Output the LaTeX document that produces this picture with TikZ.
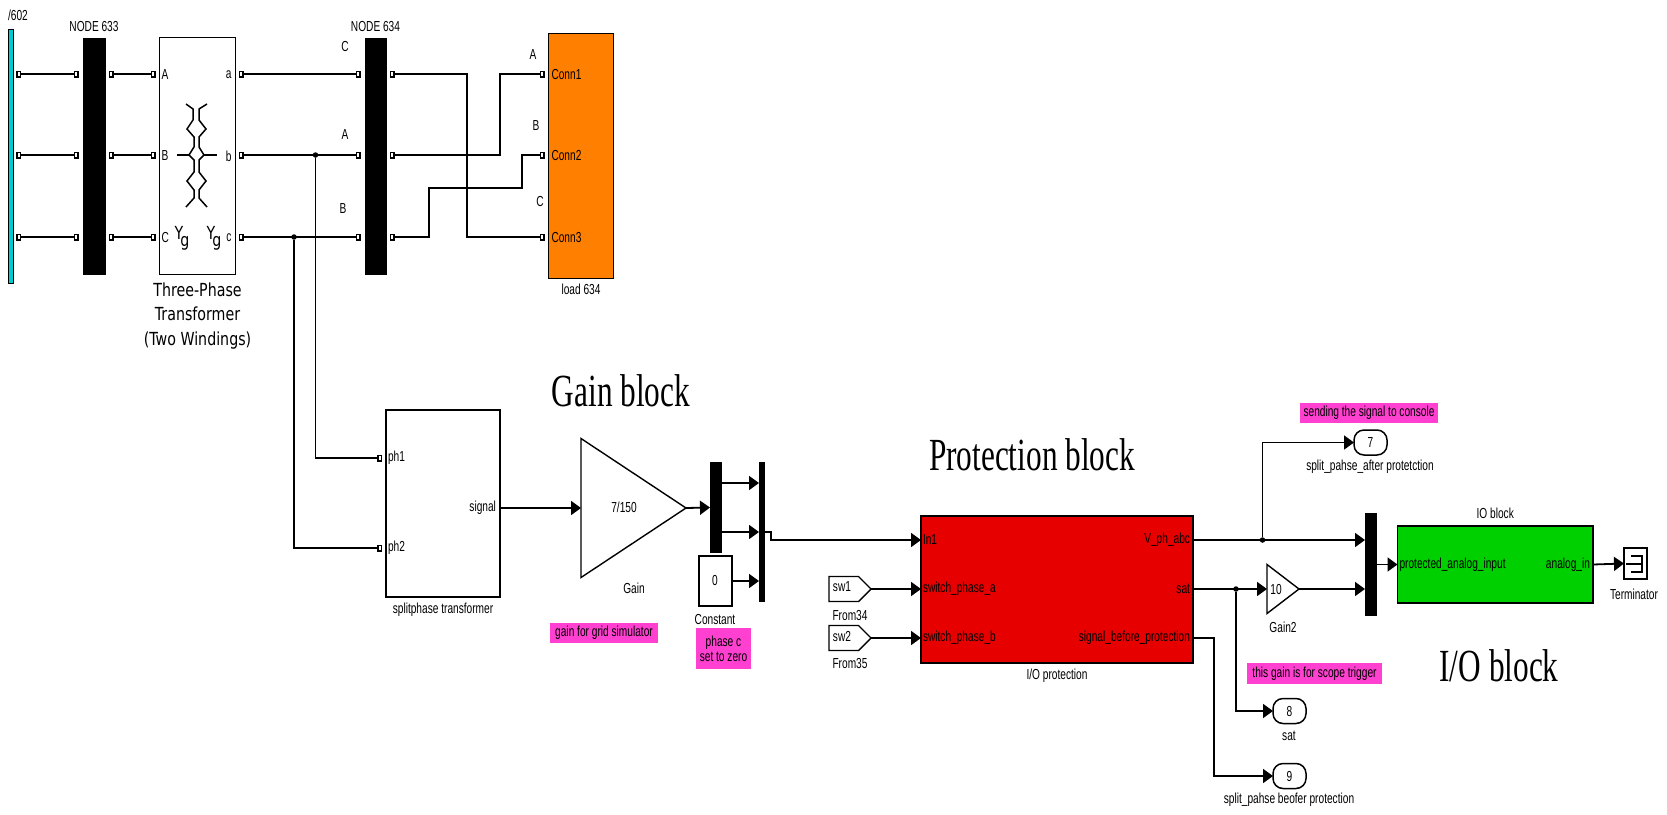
\documentclass[tikz,border=0pt]{standalone}
\usepackage{fontspec}
\setmainfont[FakeStretch=0.7]{Liberation Sans}
\newfontfamily\titlefont[FakeStretch=0.68]{Liberation Serif}
\newfontfamily\xfmrfont[FakeStretch=0.79]{DejaVu Sans}
\usetikzlibrary{arrows.meta,positioning,shapes.geometric,shapes.symbols}
\definecolor{loadorange}{RGB}{255,128,0}
\definecolor{protred}{RGB}{230,0,0}
\definecolor{iogreen}{RGB}{0,208,0}
\definecolor{notepink}{RGB}{255,64,208}
\definecolor{srccyan}{RGB}{0,204,208}

\begin{document}
\begin{tikzpicture}[
  x=1pt, y=1pt,
  font=\fontsize{14.5}{15}\selectfont,
  blk/.style={draw, line width=1.5pt, inner sep=0pt, outer sep=0pt},
  bus/.style={fill=black, inner sep=0pt, outer sep=0pt},
  lbl/.style={inner sep=0pt, outer sep=0pt},
  note/.style={fill=notepink, inner sep=0pt, outer sep=0pt, align=center},
  outp/.style={draw, line width=1.5pt, rounded corners=10pt, minimum width=33pt, minimum height=25pt, inner sep=0pt, outer sep=0pt},
  amp/.style={draw, line width=1.4pt, isosceles triangle, isosceles triangle stretches, shape border rotate=0, inner sep=0pt, outer sep=0pt, anchor=west},
  tag/.style={draw, line width=1.4pt, signal, signal to=east, signal from=nowhere, signal pointer angle=90, minimum width=42pt, minimum height=25pt, inner sep=0pt, outer sep=0pt},
  dot/.style={circle, fill=black, minimum size=5.5pt, inner sep=0pt, outer sep=0pt},
  ttl/.style={inner sep=0pt, outer sep=0pt, font=\titlefont\fontsize{46}{48}\selectfont},
  xfm/.style={inner sep=0pt, outer sep=0pt, align=center, font=\xfmrfont\fontsize{18}{24.5}\selectfont},
  phys/.style={line width=1.8pt, {Square[open,length=5pt,width=7pt,line width=1.5pt]}-{Square[open,length=5pt,width=7pt,line width=1.5pt]}, shorten <=3pt, shorten >=4pt},
  tap/.style={line width=1.8pt, -{Square[open,length=5pt,width=7pt,line width=1.5pt]}, shorten >=4pt},
  sig/.style={line width=1.8pt, -{Triangle[length=10pt,width=14pt]}}]
  \useasboundingbox (0,0) rectangle (1667,-814);

  % rows of the three-phase part
  \coordinate (ra) at (0,-74);
  \coordinate (rb) at (0,-155);
  \coordinate (rc) at (0,-237);
  \coordinate (jogl) at (429,-188);
  \coordinate (jogr) at (522,-188);

  \node[draw, line width=0.6pt, fill=srccyan, minimum width=5pt, minimum height=254pt, inner sep=0pt, outer sep=0pt] (src) at (10.5,-156) {};
  \node[bus, minimum width=23pt, minimum height=237pt, right=69.5pt of src] (bus633) {};
  \node[blk, fill=white, minimum width=76pt, minimum height=237pt, right=54pt of bus633] (xfmr) {};
  \node[bus, minimum width=22pt, minimum height=237pt, right=129pt of xfmr] (bus634) {};
  \node[blk, fill=loadorange, minimum width=65pt, minimum height=245pt, right=162pt of bus634] (load) {};

  \node[lbl] (srcname) at (18,-15) {/602};
  \node[lbl, above=6pt of bus633] (name633) {NODE 633};
  \node[lbl, above=6pt of bus634] (name634) {NODE 634};
  \node[lbl, below=5pt of load] (loadname) {load 634};
  \node[xfm, below=8pt of xfmr] (xfmrname) {Three-Phase\\Transformer\\(Two Windings)};

  \node[lbl, anchor=west] (pa) at ([xshift=2pt,yshift=-1pt]xfmr.west |- ra) {A};
  \node[lbl, anchor=west] (pb) at ([xshift=2pt,yshift=-1pt]xfmr.west |- rb) {B};
  \node[lbl, anchor=west] (pc) at ([xshift=2pt,yshift=-1pt]xfmr.west |- rc) {C};
  \node[lbl, anchor=east] (sa) at ([xshift=-4pt,yshift=-1pt]xfmr.east |- ra) {a};
  \node[lbl, anchor=east] (sb) at ([xshift=-4pt,yshift=-1pt]xfmr.east |- rb) {b};
  \node[lbl, anchor=east] (sc) at ([xshift=-4pt,yshift=-1pt]xfmr.east |- rc) {c};
  \node[xfm] (ygl) at (182,-238) {Y\kern-3pt\raisebox{-7pt}{g}};
  \node[xfm] (ygr) at (214,-238) {Y\kern-3pt\raisebox{-7pt}{g}};
  \node[lbl] (phc) at (345,-47) {C};
  \node[lbl] (pha) at (345,-135) {A};
  \node[lbl] (phb) at (343,-209) {B};
  \node[lbl] (lda) at (533,-55) {A};
  \node[lbl] (ldb) at (536,-126) {B};
  \node[lbl] (ldc) at (540,-202) {C};
  \node[lbl, anchor=west] (conn1) at ([xshift=3pt,yshift=-1pt]load.west |- ra) {Conn1};
  \node[lbl, anchor=west] (conn2) at ([xshift=3pt,yshift=-1pt]load.west |- rb) {Conn2};
  \node[lbl, anchor=west] (conn3) at ([xshift=3pt,yshift=-1pt]load.west |- rc) {Conn3};

  % winding symbol
  \draw[line width=1.5pt] (186,-104) -- (193,-109) -- (193,-120) -- (187,-129) -- (194,-137) -- (194,-147) -- (189,-155) -- (194,-160) -- (194,-172) -- (187,-181) -- (194,-190) -- (194,-198) -- (186,-207);
  \draw[line width=1.5pt] (207,-104) -- (199,-109) -- (199,-120) -- (206,-129) -- (199,-137) -- (199,-147) -- (204,-155) -- (199,-160) -- (199,-172) -- (206,-181) -- (199,-190) -- (199,-198) -- (207,-207);
  \draw[line width=1.5pt] (177,-155) -- (189,-155) (204,-155) -- (217,-155);

  \draw[phys] (src.east |- ra) -- (bus633.west |- ra);
  \draw[phys] (src.east |- rb) -- (bus633.west |- rb);
  \draw[phys] (src.east |- rc) -- (bus633.west |- rc);
  \draw[phys] (bus633.east |- ra) -- (xfmr.west |- ra);
  \draw[phys] (bus633.east |- rb) -- (xfmr.west |- rb);
  \draw[phys] (bus633.east |- rc) -- (xfmr.west |- rc);
  \draw[phys] (xfmr.east |- ra) -- (bus634.west |- ra);
  \draw[phys] (xfmr.east |- rb) -- (bus634.west |- rb);
  \draw[phys] (xfmr.east |- rc) -- (bus634.west |- rc);
  \draw[phys] (bus634.east |- ra) -| (467,-237) -- (load.west |- rc);
  \draw[phys] (bus634.east |- rb) -| (500,-74) -- (load.west |- ra);
  \draw[phys] (bus634.east |- rc) -| (jogl) -- (jogr) |- (load.west |- rb);

  % signal part
  \node[dot] (tapb) at (315.5,-155) {};
  \node[dot] (tapc) at (294,-237) {};
  \node[blk, minimum width=114pt, minimum height=187pt] (split) at (443,-503.5) {};
  \coordinate (rph1) at (0,-458);
  \coordinate (rph2) at (0,-548);
  \coordinate (rsig) at (0,-508);
  \node[lbl, anchor=west] (ph1) at ([xshift=2pt]split.west |- rph1) {ph1};
  \node[lbl, anchor=west] (ph2) at ([xshift=2pt]split.west |- rph2) {ph2};
  \node[lbl, anchor=east] (signal) at ([xshift=-4pt]split.east |- rsig) {signal};
  \node[lbl, below=6pt of split] (splitname) {splitphase transformer};
  \draw[tap] (tapb) |- (split.west |- rph1);
  \draw[tap] (tapc) |- (split.west |- rph2);

  \node[amp, minimum height=105pt, minimum width=139pt] (gain) at (581,-508) {};
  \node[lbl] (gainval) at (624,-507) {7/150};
  \node[lbl] (gainname) at (634,-588) {Gain};
  \node[ttl] (gaintitle) at (621,-391) {Gain block};
  \node[note, minimum width=108pt, minimum height=20pt] (gainnote) at (604,-633) {gain for grid simulator};

  \node[bus, minimum width=12pt, minimum height=91pt] (demux) at (716,-507.5) {};
  \node[bus, minimum width=6pt, minimum height=140pt] (mux) at (762,-532) {};
  \node[blk, minimum width=33pt, minimum height=50pt] (const) at (715.5,-581) {};
  \node[lbl] (constval) at (715,-580) {0};
  \node[lbl] (constname) at (715,-619) {Constant};
  \node[note, minimum width=55pt, minimum height=41pt] (constnote) at (723.5,-648.5) {phase c\\set to zero};
  \coordinate (rmuxa) at (0,-483);
  \coordinate (rmuxb) at (0,-532);
  \coordinate (rmuxc) at (0,-581);
  \coordinate (jogm) at (771,-540);

  \node[blk, fill=protred, minimum width=272pt, minimum height=147pt] (prot) at (1057,-589.5) {};
  \coordinate (rva) at (0,-540);
  \coordinate (rvb) at (0,-589);
  \coordinate (rvc) at (0,-638);
  \node[lbl, anchor=west] (in1) at ([xshift=2pt]prot.west |- rva) {In1};
  \node[lbl, anchor=west] (swa) at ([xshift=2pt]prot.west |- rvb) {switch\_phase\_a};
  \node[lbl, anchor=west] (swb) at ([xshift=2pt]prot.west |- rvc) {switch\_phase\_b};
  \node[lbl, anchor=east] (vph) at ([xshift=-3pt]prot.east |- rva) {V\_ph\_abc};
  \node[lbl, anchor=east] (sat) at ([xshift=-3pt]prot.east |- rvb) {sat};
  \node[lbl, anchor=east] (sbp) at ([xshift=-3pt]prot.east |- rvc) {signal\_before\_protection};
  \node[lbl, below=6pt of prot] (protname) {I/O protection};
  \node[ttl] (prottitle) at (1032,-455) {Protection block};

  \node[tag, anchor=west] (from34) at (829,-589) {};
  \node[tag, anchor=west] (from35) at (829,-638) {};
  \node[lbl] (sw1) at (842,-587) {sw1};
  \node[lbl] (sw2) at (842,-636) {sw2};
  \node[lbl] (from34name) at (850,-615) {From34};
  \node[lbl] (from35name) at (850,-663) {From35};

  \draw[sig] (split.east |- rsig) -- (gain.west);
  \draw[sig] (gain.east) -- (demux.west);
  \draw[sig] (demux.east |- rmuxa) -- (mux.west |- rmuxa);
  \draw[sig] (demux.east |- rmuxb) -- (mux.west |- rmuxb);
  \draw[sig] (const.east |- rmuxc) -- (mux.west |- rmuxc);
  \draw[sig] (mux.east |- rmuxb) -| (jogm) -- (prot.west |- rva);
  \draw[sig] (from34.east) -- (prot.west |- rvb);
  \draw[sig] (from35.east) -- (prot.west |- rvc);

  \node[bus, minimum width=12pt, minimum height=103pt] (muxio) at (1371,-564.5) {};
  \node[amp, minimum height=32pt, minimum width=49pt] (gaintwo) at (1267,-589) {};
  \node[lbl] (gaintwoval) at (1276,-589) {10};
  \node[lbl] (gaintwoname) at (1283,-627) {Gain2};
  \node[dot] (tapv) at (1262.5,-540) {};
  \node[dot] (taps) at (1236,-589) {};

  \node[outp] (out7) at (1370.5,-442.5) {7};
  \node[lbl] (out7name) at (1370,-467) {split\_pahse\_after protetction};
  \node[note, minimum width=138pt, minimum height=20pt] (out7note) at (1369,-413) {sending the signal to console};
  \node[outp] (out8) at (1289.5,-711) {8};
  \node[lbl] (out8name) at (1289,-736) {sat};
  \node[note, minimum width=135pt, minimum height=21pt] (satnote) at (1314.5,-673.5) {this gain is for scope trigger};
  \node[outp] (out9) at (1289.5,-776) {9};
  \node[lbl] (out9name) at (1289,-800) {split\_pahse beofer protection};

  \node[blk, fill=iogreen, minimum width=195.5pt, minimum height=77pt] (io) at (1495.25,-564.5) {};
  \node[lbl, above=7pt of io] (ioname) {IO block};
  \node[lbl, anchor=west] (ioin) at ([xshift=2pt]io.west) {protected\_analog\_input};
  \node[lbl, anchor=east] (ioout) at ([xshift=-3pt]io.east) {analog\_in};
  \node[ttl] (iotitle) at (1499,-666) {I/O block};

  \node[blk, minimum width=23pt, minimum height=31pt] (term) at (1635.5,-563.5) {};
  \node[lbl, anchor=west] (termname) at (1610,-594) {Terminator};
  \draw[line width=1.4pt] (1631,-556) -- (1642,-556) -- (1642,-572) -- (1631,-572) (1626,-564) -- (1642,-564);

  \draw[sig] (prot.east |- rva) -- (muxio.west |- rva);
  \draw[sig] (prot.east |- rvb) -- (gaintwo.west);
  \draw[sig] (gaintwo.east) -- (muxio.west |- rvb);
  \draw[sig] (tapv) |- (out7.west);
  \draw[sig] (taps) |- (out8.west);
  \draw[sig] (prot.east |- rvc) -- ++(21,0) |- (out9.west);
  \draw[sig] (muxio.east |- io) -- (io.west);
  \draw[sig] (io.east) -- (term.west);
\end{tikzpicture}
\end{document}
